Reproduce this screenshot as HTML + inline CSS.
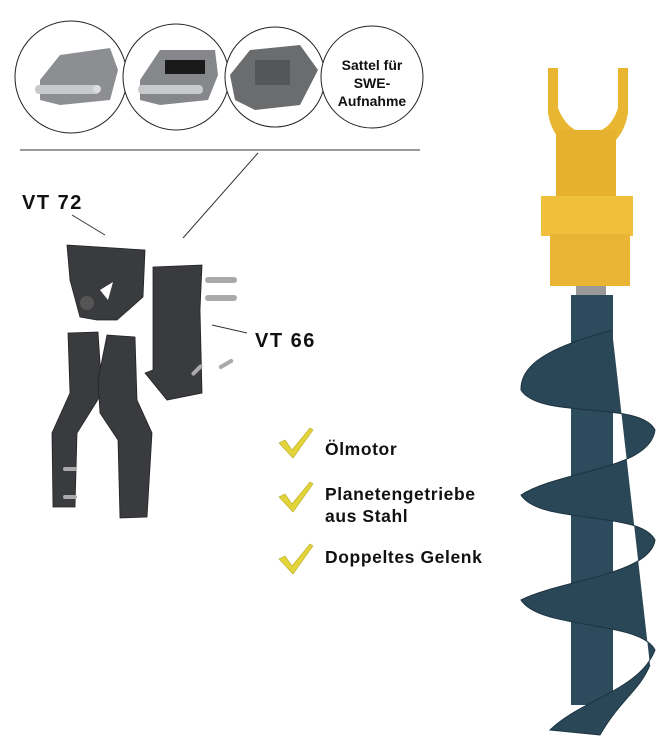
<!DOCTYPE html>
<html><head><meta charset="utf-8"><style>
body{margin:0;background:#fff;width:670px;height:753px;overflow:hidden}
svg{display:block}
text{font-family:"Liberation Sans",sans-serif;font-weight:bold}
</style></head><body>
<svg width="670" height="753" viewBox="0 0 670 753" xmlns="http://www.w3.org/2000/svg">
<g fill="#fff" stroke="#222" stroke-width="1">
<circle cx="71" cy="77" r="56"/>
<circle cx="176" cy="77" r="53"/>
<circle cx="275" cy="77" r="50"/>
<circle cx="372" cy="77" r="51"/>
</g>
<g>
<polygon points="40,80 60,55 110,48 118,70 110,100 60,105 40,100" fill="#8c8e92"/>
<rect x="35" y="85" width="65" height="9" rx="4" fill="#c8c9cb"/>
<circle cx="97" cy="89" r="4" fill="#ddd"/>
<polygon points="140,80 160,50 215,50 218,75 208,100 160,105 140,100" fill="#85878b"/>
<rect x="165" y="60" width="40" height="14" fill="#1a1a1a"/>
<rect x="138" y="85" width="65" height="9" rx="4" fill="#c8c9cb"/>
<polygon points="230,75 250,50 300,45 318,70 300,105 255,110 235,100" fill="#6b6c6e"/>
<rect x="255" y="60" width="35" height="25" fill="#55565a"/>
</g>
<text x="372" y="70" font-size="14" text-anchor="middle" fill="#111">Sattel für</text>
<text x="372" y="88" font-size="14" text-anchor="middle" fill="#111">SWE-</text>
<text x="372" y="106" font-size="14" text-anchor="middle" fill="#111">Aufnahme</text>
<line x1="20" y1="150" x2="420" y2="150" stroke="#333" stroke-width="1"/>
<line x1="258" y1="153" x2="183" y2="238" stroke="#333" stroke-width="1"/>
<line x1="72" y1="215" x2="105" y2="235" stroke="#333" stroke-width="1"/>
<line x1="212" y1="325" x2="247" y2="333" stroke="#333" stroke-width="1"/>
<text x="22" y="209" font-size="20" letter-spacing="1.5" fill="#111">VT 72</text>
<text x="255" y="347" font-size="20" letter-spacing="1.5" fill="#111">VT 66</text>
<g fill="#3a3b3e" stroke="#222" stroke-width="0.8">
<polygon points="67,245 145,250 143,297 117,320 97,320 80,317 70,280"/>
<polygon points="153,267 202,265 200,310 202,393 167,400 145,373 153,370"/>
<polygon points="68,333 98,332 102,393 77,433 75,507 53,507 52,433 70,393"/>
<polygon points="107,335 135,337 137,400 152,433 147,517 120,518 118,440 100,413 98,380"/>
</g>
<circle cx="87" cy="303" r="7" fill="#555"/>
<polygon points="100,290 113,282 108,300" fill="#fff"/>
<g fill="#aaa">
<rect x="205" y="277" width="32" height="6" rx="3"/>
<rect x="205" y="295" width="32" height="6" rx="3"/>
<rect x="218" y="362" width="16" height="4" rx="2" transform="rotate(-30 226 364)"/>
<rect x="190" y="368" width="14" height="4" rx="2" transform="rotate(-45 197 370)"/>
<rect x="63" y="467" width="14" height="4" rx="2"/>
<rect x="63" y="495" width="14" height="4" rx="2"/>
</g>
<g fill="#e3d43a" stroke="#b8a820" stroke-width="0.6">
<path d="M279,443 l6,-3 l7,10 l18,-22 l3,2 l-20,28 z"/>
<path d="M279,497 l6,-3 l7,10 l18,-22 l3,2 l-20,28 z"/>
<path d="M279,559 l6,-3 l7,10 l18,-22 l3,2 l-20,28 z"/>
</g>
<g font-size="17.5" letter-spacing="0.6" fill="#111">
<text x="325" y="455">Ölmotor</text>
<text x="325" y="500">Planetengetriebe</text>
<text x="325" y="522">aus Stahl</text>
<text x="325" y="563">Doppeltes Gelenk</text>
</g>
<g>
<path d="M548,68 h10 v40 q10,25 30,25 q22,0 30,-25 v-40 h10 v45 q-5,30 -30,38 h-20 q-25,-8 -30,-38z" fill="#e8b630"/>
<rect x="556" y="130" width="60" height="70" fill="#e5b12e"/>
<rect x="541" y="196" width="92" height="40" fill="#f0bf3c"/>
<rect x="550" y="234" width="80" height="52" fill="#eab535"/>
<rect x="576" y="286" width="30" height="10" fill="#999"/>
<rect x="571" y="295" width="42" height="410" fill="#2c4b5d"/>
<path d="M612,330 C560,345 520,360 521,390 C540,420 640,400 655,430 C650,470 560,470 521,495 C540,525 640,510 655,540 C650,575 560,580 521,600 C540,630 640,620 655,650 C640,690 580,700 550,730 L600,735 C620,700 640,690 650,665" fill="#2a4757" stroke="#1c3340" stroke-width="1"/>
</g>
</svg>
</body></html>
